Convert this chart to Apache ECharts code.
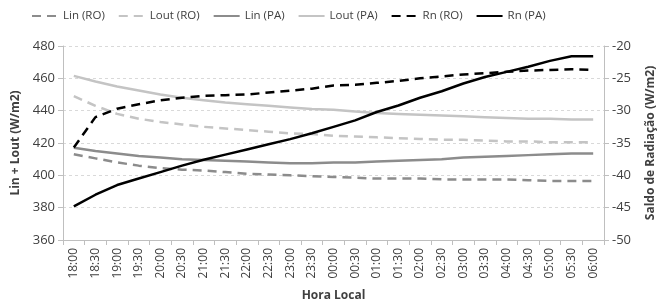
<!DOCTYPE html>
<html lang="pt">
<head>
    <meta charset="UTF-8">
    <title>Saldo de radiação</title>
    <script src="https://cdn.jsdelivr.net/npm/echarts@6/dist/echarts.min.js"></script>
</head>
<body style="margin:0">
    <div id="chart" style="width:665px;height:307px"></div>
    <script>
        var horas = ['18:00','18:30','19:00','19:30','20:00','20:30','21:00','21:30','22:00','22:30','23:00','23:30',
            '00:00','00:30','01:00','01:30','02:00','02:30','03:00','03:30','04:00','04:30','05:00','05:30','06:00'];

        // eixo esquerdo (W/m2)
        var linRO = [413,410.5,408,406,404.5,403.5,403,402,401,400.5,400,399.5,399,398.5,398,398,398,397.5,397.5,397.5,397.5,397,396.5,396.5,396.5];
        var loutRO = [449,443,438,435,433,431.5,430,429,428,427,426,425.5,424.5,424,423.5,423,422.5,422,422,421.5,421,421,420.5,420.5,420.5];
        var linPA = [417,415,413.5,412,411,410,409.5,409,408.5,408,407.5,407.5,408,408,408.5,409,409.5,410,411,411.5,412,412.5,413,413.5,413.5];
        var loutPA = [461.5,458,455,452.5,450,448,446.5,445,444,443,442,441,440.5,439.5,438.5,438,437.5,437,436.5,436,435.5,435,435,434.5,434.5];

        // eixo direito (saldo)
        var rnRO = [-35.7,-31,-29.7,-29,-28.4,-28,-27.7,-27.6,-27.5,-27.2,-26.9,-26.6,-26.1,-26,-25.7,-25.4,-25,-24.7,-24.4,-24.2,-24,-23.8,-23.7,-23.6,-23.7];
        var rnPA = [-44.8,-43,-41.5,-40.5,-39.5,-38.5,-37.6,-36.8,-36,-35.2,-34.4,-33.5,-32.5,-31.5,-30.2,-29.2,-28,-27,-25.8,-24.8,-24,-23.2,-22.3,-21.6,-21.6];

        var corTexto = '#404040';
        var fonte = 'Open Sans';

        function serie(nome, dados, cor, tipo, eixo) {
            return {
                name: nome,
                type: 'line',
                data: dados,
                yAxisIndex: eixo,
                symbol: 'none',
                smooth: false,
                lineStyle: { color: cor, width: 2.5, type: tipo },
                itemStyle: { color: cor }
            };
        }

        var chart = echarts.init(document.getElementById('chart'));
        var option = {
            animation: false,
            textStyle: { fontFamily: fonte },
            legend: {
                top: 5,
                left: 26,
                itemWidth: 26,
                itemHeight: 10,
                itemGap: 13,
                itemStyle: { opacity: 0 },
                textStyle: { color: corTexto, fontSize: 11.5, fontFamily: fonte },
                data: ['Lin (RO)','Lout (RO)','Lin (PA)','Lout (PA)','Rn (RO)','Rn (PA)']
            },
            grid: { left: 63, right: 61, top: 46, bottom: 66 },
            xAxis: {
                type: 'category',
                data: horas,
                name: 'Hora Local',
                nameLocation: 'middle',
                nameGap: 50,
                nameTextStyle: { color: corTexto, fontWeight: 'bold', fontSize: 12 },
                axisLine: { lineStyle: { color: '#bfbfbf' } },
                axisTick: { show: true, length: 5, lineStyle: { color: '#bfbfbf' } },
                axisLabel: { rotate: 90, color: corTexto, fontSize: 12, margin: 8 }
            },
            yAxis: [{
                type: 'value',
                min: 360, max: 480, interval: 20,
                name: 'Lin + Lout (W/m2)',
                nameLocation: 'middle',
                nameRotate: 90,
                nameGap: 38,
                nameTextStyle: { color: corTexto, fontWeight: 'bold', fontSize: 12 },
                axisLine: { show: true, lineStyle: { color: '#bfbfbf' } },
                axisTick: { show: true, length: 5, lineStyle: { color: '#bfbfbf' } },
                axisLabel: { color: corTexto, fontSize: 13, margin: 8 },
                splitLine: { lineStyle: { color: '#d9d9d9', type: [3, 3] } }
            }, {
                type: 'value',
                min: -50, max: -20, interval: 5,
                axisLine: { show: true, lineStyle: { color: '#bfbfbf' } },
                axisTick: { show: true, length: 5, lineStyle: { color: '#bfbfbf' } },
                axisLabel: { color: corTexto, fontSize: 13, margin: 8 },
                splitLine: { show: false }
            }],
            // nome do eixo direito, lido de baixo para cima
            graphic: [{
                type: 'text',
                x: 651,
                y: 143,
                rotation: Math.PI / 2,
                style: {
                    text: 'Saldo de Radiação (W/m2)',
                    fill: corTexto,
                    font: 'bold 12px "Open Sans"',
                    align: 'center',
                    verticalAlign: 'middle'
                }
            }],
            series: [
                serie('Lin (RO)', linRO, '#8c8c8c', [9, 6], 0),
                serie('Lout (RO)', loutRO, '#c4c4c4', [9, 6], 0),
                serie('Lin (PA)', linPA, '#8c8c8c', 'solid', 0),
                serie('Lout (PA)', loutPA, '#c4c4c4', 'solid', 0),
                serie('Rn (RO)', rnRO, '#000000', [9, 6], 1),
                serie('Rn (PA)', rnPA, '#000000', 'solid', 1)
            ]
        };
        chart.setOption(option);
    </script>
</body>
</html>
